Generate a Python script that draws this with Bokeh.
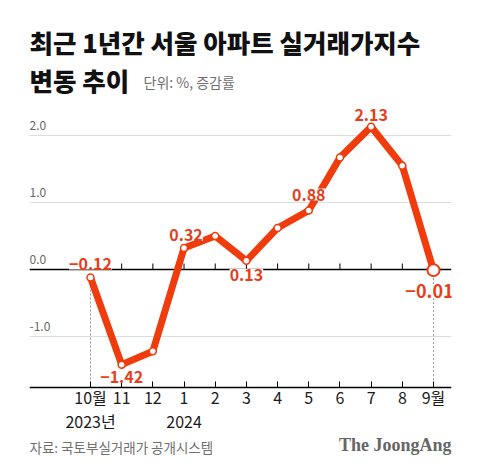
from bokeh.plotting import figure
from bokeh.models import Range1d, FixedTicker, Span, Label
from bokeh.core.properties import value
from bokeh.embed import file_html
from bokeh.resources import INLINE

# ---- data ----
months = ["10월", "11", "12", "1", "2", "3", "4", "5", "6", "7", "8", "9월"]
year_labels = {0: "2023년", 3: "2024"}
values = [-0.12, -1.42, -1.22, 0.32, 0.50, 0.13, 0.62, 0.88, 1.67, 2.13, 1.55, -0.01]
grid_values = [2.0, 1.0, -1.0]
grid_labels = ["2.0", "1.0", "0.0", "-1.0"]
grid_label_values = [2.0, 1.0, 0.0, -1.0]
labeled_idx = [0, 1, 3, 5, 7, 9, 11]

title1 = "최근 1년간 서울 아파트 실거래가지수"
title2 = "변동 추이"
subtitle = "단위: %, 증감률"
source_txt = "자료: 국토부실거래가 공개시스템"
brand = "The JoongAng"

RED = "#F03C0C"
RED_T = "#E63E1C"
FONT = "Noto Sans CJK KR"

x = list(range(len(months)))

# ---- geometry (pixels of the figure) ----
W, H = 472, 466
LEFT, RIGHT = 29, 451
ZERO_PY, UNIT_PX = 269, 67.0
X0_PX, STEP_PX = 90, (433 - 90) / 11
AXIS_PY = 387

XS = (LEFT - X0_PX) / STEP_PX
XE = (RIGHT - X0_PX) / STEP_PX
YS = -(H - ZERO_PY) / UNIT_PX
YE = ZERO_PY / UNIT_PX


def X(px):
    return XS + (px - LEFT) / STEP_PX


def Y(py):
    return (ZERO_PY - py) / UNIT_PX


AXIS_Y = Y(AXIS_PY)

p = figure(width=W, height=H,
           x_range=Range1d(XS, XE), y_range=Range1d(YS, YE),
           output_backend="svg", toolbar_location=None, y_axis_location=None,
           min_border_left=LEFT, min_border_right=W - RIGHT,
           min_border_top=0, min_border_bottom=0)
p.outline_line_color = None
p.grid.visible = False
p.background_fill_color = "white"
p.border_fill_color = "white"

ax = p.xaxis[0]
ax.fixed_location = AXIS_Y
ax.ticker = FixedTicker(ticks=x)
ax.major_label_overrides = {i: (m + ("\n" + year_labels[i] if i in year_labels else ""))
                            for i, m in enumerate(months)}
ax.major_tick_in = 6
ax.major_tick_out = 0
ax.minor_tick_in = 0
ax.minor_tick_out = 0
ax.axis_line_color = "black"
ax.axis_line_width = 1.3
ax.major_tick_line_color = "black"
ax.major_label_text_font = FONT
ax.major_label_text_font_size = "16px"
ax.major_label_text_color = "#1a1a1a"
ax.major_label_text_line_height = 1.0
ax.major_label_standoff = -3

# grid lines
for v in grid_values:
    p.add_layout(Span(location=v, dimension="width", line_color="#dddddd",
                      line_width=1, level="underlay"))
p.add_layout(Span(location=0, dimension="width", line_color="black",
                  line_width=1.3, level="underlay"))

# grid labels
for t, v in zip(grid_labels, grid_label_values):
    p.add_layout(Label(x=XS, y=v, text=t,
                       y_offset=10, text_align="left", text_baseline="middle",
                       text_font=FONT, text_font_size="12px", text_color="#666666"))

# ticks on zero line
p.segment(x0=x, y0=[0] * len(x), x1=x, y1=[6 / UNIT_PX] * len(x),
          line_color="black", line_width=1)

# dotted guides
ends = [0, len(x) - 1]
p.segment(x0=[x[i] for i in ends], y0=[values[i] for i in ends],
          x1=[x[i] for i in ends], y1=[AXIS_Y] * 2,
          line_color="#999999", line_width=1, line_dash="2 2")

# main line
p.line(x, values, line_color=RED, line_width=7, line_join="round")
p.scatter(x[:-1], values[:-1], size=7, fill_color="white", line_color=RED, line_width=1.5)
p.scatter(x[-1:], values[-1:], size=12, fill_color="white", line_color=RED, line_width=2)

# value labels
offsets = {0: (0, 14, 16), 1: (0, -12, 16), 3: (2, 13, 16), 5: (0, -14, 16),
           7: (0, 16, 16), 9: (0, 12, 16), 11: (-4, -21, 18)}
for i in labeled_idx:
    dx, dy, fs = offsets[i]
    txt = f"{values[i]:.2f}".replace("-", "−")
    p.add_layout(Label(x=x[i], y=values[i], text=txt, x_offset=dx, y_offset=dy,
                       text_align="center", text_baseline="middle",
                       text_font=FONT, text_font_style="bold",
                       text_font_size=f"{fs}px", text_color=RED_T,
                       background_fill_color="white"))

# titles & footer as text glyphs
def txt(xp, yp, s, size, color, align="left", font=FONT, style="normal"):
    p.text(x=[X(xp)], y=[Y(yp)], text=[s], text_align=align, text_baseline="middle",
           text_font=value(font), text_font_style=style,
           text_font_size=f"{size}px", text_color=color)


txt(LEFT, 41, title1, 25.5, "#111111", font="Noto Sans CJK KR Black", style="bold")
txt(LEFT, 79, title2, 25.5, "#111111", font="Noto Sans CJK KR Black", style="bold")
txt(143, 81, subtitle, 14, "#707070")
txt(LEFT, 446, source_txt, 13.5, "#707070")
txt(RIGHT, 444, brand, 18, "#666666", align="right", font="Liberation Serif", style="bold")

open("out.html", "w").write(file_html(p, INLINE))
